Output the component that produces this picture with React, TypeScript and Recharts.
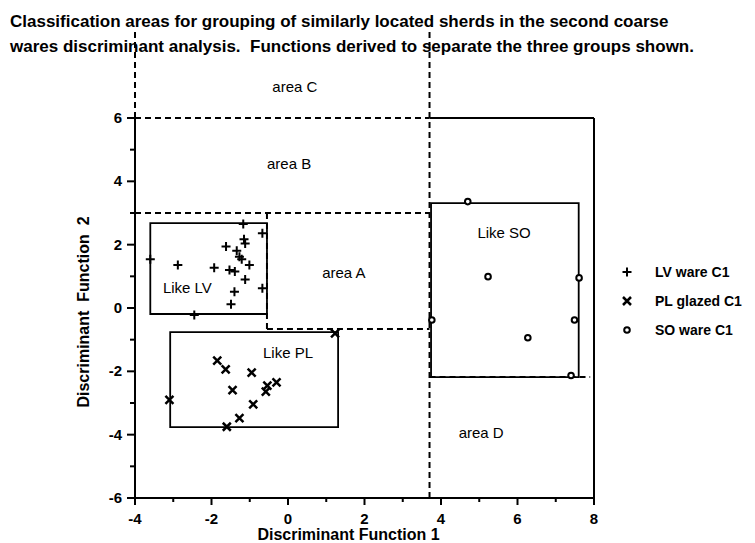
import React from "react";
import { ScatterChart, Scatter, XAxis, YAxis, ReferenceLine, ReferenceArea, ReferenceDot } from "recharts";

const FONT = '"Liberation Sans", Arial, Helvetica, sans-serif';

const titleLines = [
  "Classification areas for grouping of similarly located sherds in the second coarse",
  "wares discriminant analysis.  Functions derived to separate the three groups shown.",
];

const xTicks = [-4, -3, -2, -1, 0, 1, 2, 3, 4, 5, 6, 7, 8];
const yTicks = [-6, -5, -4, -3, -2, -1, 0, 1, 2, 3, 4, 5, 6];

// LV ware C1 (+)
const lvWare = [
  { x: -3.6, y: 1.54 }, { x: -2.88, y: 1.36 }, { x: -2.45, y: -0.22 }, { x: -1.93, y: 1.27 },
  { x: -1.62, y: 1.94 }, { x: -1.34, y: 1.81 }, { x: -1.17, y: 2.65 }, { x: -1.15, y: 2.17 },
  { x: -1.12, y: 2.04 }, { x: -1.27, y: 1.62 }, { x: -1.21, y: 1.54 }, { x: -1.53, y: 1.2 },
  { x: -1.39, y: 1.15 }, { x: -1.01, y: 1.36 }, { x: -1.12, y: 0.9 }, { x: -1.4, y: 0.51 },
  { x: -1.49, y: 0.12 }, { x: -0.67, y: 2.36 }, { x: -0.67, y: 0.62 },
];

// PL glazed C1 (x)
const plGlazed = [
  { x: -1.85, y: -1.66 }, { x: -1.63, y: -1.94 }, { x: -0.95, y: -2.04 }, { x: -1.45, y: -2.59 },
  { x: -0.54, y: -2.45 }, { x: -0.3, y: -2.35 }, { x: -0.58, y: -2.64 }, { x: -0.91, y: -3.04 },
  { x: -1.27, y: -3.48 }, { x: -1.6, y: -3.75 }, { x: -3.1, y: -2.9 }, { x: 1.23, y: -0.8 },
];

// SO ware C1 (o)
const soWare = [
  { x: 4.7, y: 3.36 }, { x: 5.23, y: 0.99 }, { x: 6.27, y: -0.94 }, { x: 7.49, y: -0.38 },
  { x: 7.61, y: 0.95 }, { x: 3.76, y: -0.38 }, { x: 7.4, y: -2.13 },
];

const areaLabels = [
  { x: 0.18, y: 6.98, text: "area C" },
  { x: 0.03, y: 4.55, text: "area B" },
  { x: 1.46, y: 1.1, text: "area A" },
  { x: 5.05, y: -3.95, text: "area D" },
  { x: -2.63, y: 0.63, text: "Like LV" },
  { x: 0.0, y: -1.42, text: "Like PL" },
  { x: 5.65, y: 2.37, text: "Like SO" },
];

const groupBoxes = [
  { x1: -3.6, x2: -0.55, y1: -0.19, y2: 2.68 },
  { x1: -3.08, x2: 1.31, y1: -3.76, y2: -0.76 },
  { x1: 3.74, x2: 7.6, y1: -2.18, y2: 3.31 },
];

const dashedLines = [
  [{ x: -4, y: 6 }, { x: -4, y: 8.8 }],
  [{ x: 3.7, y: -6 }, { x: 3.7, y: 8.8 }],
  [{ x: -4, y: 6 }, { x: 3.7, y: 6 }],
  [{ x: -4, y: 3 }, { x: 3.7, y: 3 }],
  [{ x: -0.55, y: 3 }, { x: -0.55, y: -0.66 }],
  [{ x: -0.55, y: -0.66 }, { x: 3.7, y: -0.66 }],
  [{ x: 3.7, y: -2.18 }, { x: 7.9, y: -2.18 }],
];

const solidLines = [
  [{ x: 3.7, y: 6 }, { x: 8, y: 6 }],
  [{ x: 8, y: -6 }, { x: 8, y: 6 }],
];

const legendItems = [
  { name: "LV ware C1", shape: "plus" },
  { name: "PL glazed C1", shape: "cross" },
  { name: "SO ware C1", shape: "circle" },
];

const Plus = ({ cx, cy }: any) => (
  <path d={`M${cx - 4.5},${cy}H${cx + 4.5}M${cx},${cy - 4.5}V${cy + 4.5}`} stroke="#000" strokeWidth={2} fill="none" />
);
const Cross = ({ cx, cy }: any) => (
  <path d={`M${cx - 4},${cy - 4}L${cx + 4},${cy + 4}M${cx + 4},${cy - 4}L${cx - 4},${cy + 4}`} stroke="#000" strokeWidth={2.5} fill="none" />
);
const Ring = ({ cx, cy }: any) => <circle cx={cx} cy={cy} r={2.8} fill="#fff" stroke="#000" strokeWidth={2} />;

const symbolFor = (shape: string) =>
  shape === "plus" ? <Plus cx={7} cy={7} /> : shape === "cross" ? <Cross cx={7} cy={7} /> : <Ring cx={7} cy={7} />;

const XTick = ({ x, y, payload }: any) => {
  const major = payload.value % 2 === 0;
  return (
    <g>
      <line x1={x} x2={x} y1={y} y2={y + (major ? 7 : 4)} stroke="#000" strokeWidth={2} />
      {major && (
        <text x={x} y={y + 26} textAnchor="middle" fontSize={15} fontWeight="bold" fontFamily={FONT} fill="#000">
          {payload.value}
        </text>
      )}
    </g>
  );
};

const YTick = ({ x, y, payload }: any) => {
  const major = payload.value % 2 === 0;
  return (
    <g>
      <line x1={x - (major ? 8 : 5)} x2={x + 1} y1={y} y2={y} stroke="#000" strokeWidth={2} />
      {major && (
        <text x={x - 13} y={y + 5} textAnchor="end" fontSize={15} fontWeight="bold" fontFamily={FONT} fill="#000">
          {payload.value}
        </text>
      )}
    </g>
  );
};

const XLabel = ({ viewBox }: any) => (
  <text x={viewBox.x + viewBox.width / 2 - 16} y={viewBox.y + 42} textAnchor="middle" fontSize={16} fontWeight="bold" fontFamily={FONT} fill="#000">
    Discriminant Function 1
  </text>
);

const YLabel = ({ viewBox }: any) => {
  const cx = viewBox.x + 18;
  const cy = viewBox.y + viewBox.height / 2 + 4;
  return (
    <text x={cx} y={cy} transform={`rotate(-90, ${cx}, ${cy})`} textAnchor="middle" dominantBaseline="central" fontSize={16} fontWeight="bold" fontFamily={FONT} fill="#000" style={{ whiteSpace: "pre" }}>
      {"Discriminant  Function  2"}
    </text>
  );
};

export default function App() {
  return (
    <div style={{ position: "absolute", left: 0, top: 0, width: 755, height: 543, background: "#fff" }}>
      <div style={{ position: "absolute", left: 10, top: 9, fontFamily: FONT, fontWeight: "bold", fontSize: 17, lineHeight: "25px", whiteSpace: "pre", color: "#000" }}>
        {titleLines.map((t) => (
          <div key={t}>{t}</div>
        ))}
      </div>
      <ScatterChart width={755} height={543} margin={{ top: 118, right: 161, bottom: 0, left: 65 }}>
        <XAxis
          type="number"
          dataKey="x"
          domain={[-4, 8]}
          ticks={xTicks}
          interval={0}
          tickSize={0}
          tickMargin={0}
          tickLine={false}
          axisLine={{ stroke: "#000", strokeWidth: 2 }}
          tick={(p: any) => <XTick {...p} />}
          height={45}
          label={(p: any) => <XLabel {...p} />}
        />
        <YAxis
          type="number"
          dataKey="y"
          domain={[-6, 6]}
          ticks={yTicks}
          interval={0}
          tickSize={0}
          tickMargin={0}
          tickLine={false}
          axisLine={{ stroke: "#000", strokeWidth: 2 }}
          tick={(p: any) => <YTick {...p} />}
          width={70}
          label={(p: any) => <YLabel {...p} />}
        />
        {groupBoxes.map((b, i) => (
          <ReferenceArea key={`box${i}`} x1={b.x1} x2={b.x2} y1={b.y1} y2={b.y2} fill="none" stroke="#000" strokeWidth={1.8} ifOverflow="visible" />
        ))}
        {solidLines.map((s, i) => (
          <ReferenceLine key={`s${i}`} segment={s} stroke="#000" strokeWidth={2} ifOverflow="visible" />
        ))}
        {dashedLines.map((s, i) => (
          <ReferenceLine key={`d${i}`} segment={s} stroke="#000" strokeWidth={2} strokeDasharray="6 4" ifOverflow="visible" />
        ))}
        {areaLabels.map((a) => (
          <ReferenceDot
            key={a.text}
            x={a.x}
            y={a.y}
            r={1}
            fill="none"
            stroke="none"
            ifOverflow="visible"
            label={{ value: a.text, position: "center", fontSize: 15, fill: "#000", fontFamily: FONT }}
          />
        ))}
        <Scatter name="LV ware C1" data={lvWare} shape={(p: any) => <Plus {...p} />} isAnimationActive={false} />
        <Scatter name="PL glazed C1" data={plGlazed} shape={(p: any) => <Cross {...p} />} isAnimationActive={false} />
        <Scatter name="SO ware C1" data={soWare} shape={(p: any) => <Ring {...p} />} isAnimationActive={false} />
      </ScatterChart>
      <div style={{ position: "absolute", left: 620, top: 257, fontFamily: FONT, fontWeight: "bold", fontSize: 14, color: "#000" }}>
        {legendItems.map((item) => (
          <div key={item.name} style={{ display: "flex", alignItems: "center", height: 29 }}>
            <svg width={14} height={14} style={{ display: "block" }}>
              {symbolFor(item.shape)}
            </svg>
            <span style={{ marginLeft: 21 }}>{item.name}</span>
          </div>
        ))}
      </div>
    </div>
  );
}
